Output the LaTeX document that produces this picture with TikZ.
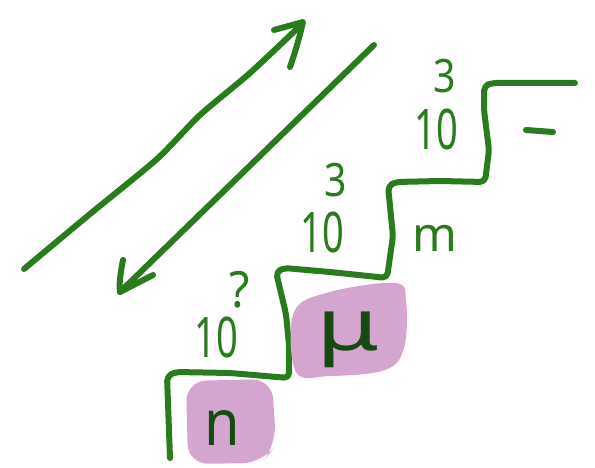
\documentclass[tikz,border=0pt]{standalone}
\usepackage{fontspec}
\setmainfont{Noto Sans}
\definecolor{pen}{RGB}{42,122,30}
\definecolor{hilite}{RGB}{212,165,206}
\begin{document}
\begin{tikzpicture}[x=1pt,y=-1pt,
  ink/.style={draw=pen,line width=6pt,line cap=round,line join=round},
  lbl/.style={text=pen,inner sep=0pt,font=\fontsize{56}{56}\selectfont,xscale=0.68},
  sup/.style={text=pen,inner sep=0pt,font=\fontsize{46}{46}\selectfont,xscale=0.85},
  blob/.style={fill=hilite,draw=none}]
\useasboundingbox (0,0) rectangle (595,468);
% arrows
\draw[ink] plot[smooth,tension=0.4] coordinates {(24,269) (90,214) (157,159) (200,115) (250,73) (302,24)};
\draw[ink] (274,30) -- (303,22) .. controls (300,35) and (296,50) .. (290,67);
\draw[ink] (374,45) -- (120,292);
\draw[ink] (123,260) .. controls (120,275) and (119,285) .. (120,292) -- (153,275);
% staircase
\draw[ink,rounded corners=5pt] (170,458) -- (167,376) -- (176,372) -- (230,373) -- (289,378)
  -- (289,345) -- (286,314) -- (276,272) -- (284,268) -- (330,272) -- (387,278)
  -- (393,236) -- (388,186) -- (396,182) -- (440,181) -- (485,182)
  -- (489,150) -- (484,110) -- (484,86) -- (492,83) -- (575,83);
\draw[ink] (526,130) -- (553,132);
% labels
\node[lbl] (t1) at (216,337) {10};
\node[sup,font=\fontsize{50}{50}\selectfont,xscale=1.1] (s1) at (240,290) {?};
\node[lbl] (t2) at (322,232) {10};
\node[sup] (s2) at (336,180) {3};
\node[lbl] (t3) at (436,129) {10};
\node[sup] (s3) at (445,76) {3};
\node[text=pen,inner sep=0pt,font=\fontsize{48}{48}\selectfont] (mm) at (435,238) {m};
% highlight blobs (multiply)
\begin{scope}[blend group=multiply]
\fill[blob,rounded corners=20pt] (186,381) -- (272,379) -- (276,445) -- (262,463) -- (188,464) -- cycle;
\fill[blob] plot[smooth cycle,tension=0.6] coordinates {(294,312) (330,292) (395,283) (406,300) (404,348) (385,370) (330,376) (296,372)};
\end{scope}
\node[text=pen!60!black,inner sep=0pt,font=\fontsize{64}{64}\selectfont,xscale=0.9] (nn) at (222,428) {n};
\node[text=pen!60!black,inner sep=0pt,font=\fontsize{72}{72}\selectfont,xscale=1.4] (mu) at (348,340) {μ};
\end{tikzpicture}
\end{document}
